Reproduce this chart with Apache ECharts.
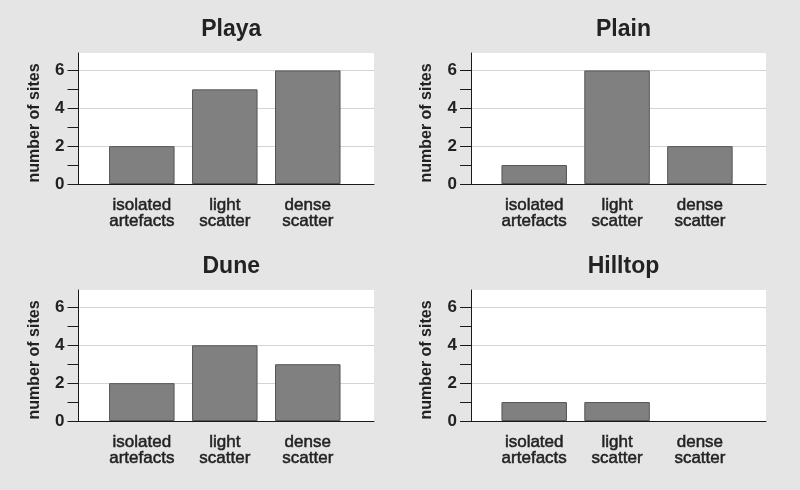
<!DOCTYPE html>
<html>
<head>
<meta charset="utf-8">
<script src="https://cdn.jsdelivr.net/npm/echarts@6/dist/echarts.min.js"></script>
<style>
html,body{margin:0;padding:0;background:#e5e5e5;}
#c{width:800px;height:490px;}
</style>
</head>
<body>
<div id="c"></div>
<script>
// ---- data ----
const categories = ["isolated artefacts", "light scatter", "dense scatter"];
const panelTitles = ["Playa", "Plain", "Dune", "Hilltop"];
const playa = [2, 5, 6];
const plain = [1, 6, 2];
const dune = [2, 4, 3];
const hilltop = [1, 1, 0];
const yTickValues = [0, 1, 2, 3, 4, 5, 6];
const yLabelValues = [0, 2, 4, 6];
const yGridValues = [2, 4, 6];
const yAxisTitle = "number of sites";

const seriesValues = [playa, plain, dune, hilltop];

// ---- layout / style ----
const layout = [
  {left: 78.5, top: 53, width: 295.5, height: 131},
  {left: 471, top: 53, width: 295, height: 131},
  {left: 78.5, top: 290, width: 295.5, height: 131},
  {left: 471, top: 290, width: 295, height: 131}
];
const xMin = 0.237, xMax = 3.798, yMax = 6.92;
const textColor = '#222222';
const fontFamily = '"Liberation Sans", Arial, Helvetica, sans-serif';

const option = {
  backgroundColor: '#e5e5e5',
  animation: false,
  title: [],
  grid: [],
  xAxis: [],
  yAxis: [],
  series: []
};

panelTitles.forEach((t, i) => {
  const L = layout[i];
  option.title.push({
    text: t,
    left: L.left + L.width / 2,
    top: L.top - 40,
    textAlign: 'center',
    textStyle: {fontFamily, fontWeight: 'bold', fontSize: 23, color: textColor}
  });
  option.grid.push({
    left: L.left, top: L.top, width: L.width, height: L.height,
    show: true, backgroundColor: '#ffffff', borderWidth: 0, containLabel: false
  });
  option.xAxis.push({
    type: 'value', gridIndex: i, min: xMin, max: xMax,
    axisLine: {show: true, onZero: false, lineStyle: {color: '#1a1a1a', width: 1}},
    axisTick: {show: false},
    splitLine: {show: false},
    axisLabel: {
      customValues: categories.map((c, k) => k + 1),
      formatter: v => { const c = categories[Math.round(v) - 1]; return c ? c.replace(' ', '\n') : ''; },
      fontFamily, fontSize: 17, color: textColor, lineHeight: 16.5, margin: 13,
      textBorderColor: textColor, textBorderWidth: 0.5
    }
  });
  // main y axis: line, ticks, labels
  option.yAxis.push({
    type: 'value', gridIndex: i, min: 0, max: yMax, position: 'left',
    name: yAxisTitle, nameLocation: 'middle', nameGap: 36, nameRotate: 90,
    nameTextStyle: {fontFamily, fontWeight: 'bold', fontSize: 16, color: textColor, padding: [0, 9, 0, 0]},
    axisLine: {show: true, lineStyle: {color: '#1a1a1a', width: 1}},
    axisTick: {show: true, length: 11, customValues: yTickValues, lineStyle: {color: '#1a1a1a'}},
    axisLabel: {customValues: yLabelValues, fontFamily, fontWeight: 'bold', fontSize: 17, color: textColor, margin: 14},
    splitLine: {show: false}
  });
  // overlay y axis: grid lines only
  option.yAxis.push({
    type: 'value', gridIndex: i, min: 0, max: yMax, position: 'left',
    axisLine: {show: false},
    axisTick: {show: false, customValues: yGridValues},
    axisLabel: {show: false},
    splitLine: {show: true, lineStyle: {color: '#d4d4d4', width: 1}}
  });
  option.series.push({
    type: 'bar', xAxisIndex: i, yAxisIndex: i * 2,
    data: seriesValues[i].map((v, k) => v === 0
      ? {value: [k + 1, v], itemStyle: {borderWidth: 0}}
      : [k + 1, v]),
    barWidth: 65.5,
    itemStyle: {color: '#808080', borderColor: '#555555', borderWidth: 1},
    z: 3
  });
});

const chart = echarts.init(document.getElementById('c'), null, {renderer: 'canvas'});
chart.setOption(option);
</script>
</body>
</html>
